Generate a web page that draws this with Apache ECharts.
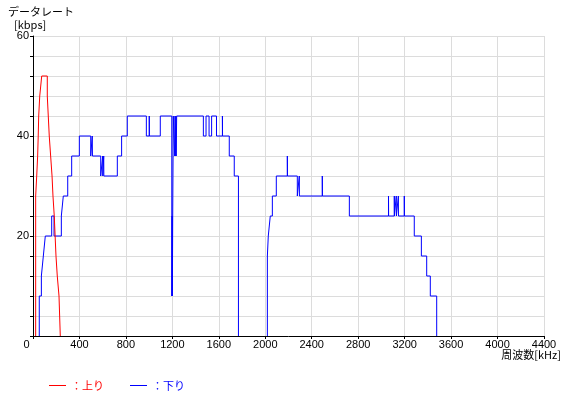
<!DOCTYPE html>
<html><head><meta charset="utf-8">
<script src="https://cdn.jsdelivr.net/npm/echarts/dist/echarts.min.js"></script>
<style>html,body{margin:0;padding:0;background:#fff}#c{width:576px;height:400px}</style>
</head><body><div id="c"></div>
<script>
// ---- data (kHz, kbps) : each point holds its rate until the next frequency ----
const upFreq = [23, 23, 32, 40, 45, 49, 58, 75, 123, 140, 152, 164, 172, 183, 198, 209, 224, 235];
const upRate = [0, 28, 32, 36, 40, 44, 48, 52, 48, 40, 36, 32, 28, 24, 16, 12, 8, 0];

const dlFreqA = [54, 54, 72, 89, 106, 161, 181, 244, 261, 299, 333, 399, 497, 510, 512, 583, 600, 601, 609, 610,
  726, 763, 812, 976, 1001, 1002, 1096, 1195, 1198, 1200, 1203, 1208, 1220, 1223, 1226, 1230, 1233, 1237,
  1467, 1490, 1516, 1538, 1580, 1631, 1632, 1690, 1733, 1769];
const dlRateA = [0, 8, 12, 16, 20, 24, 20, 24, 28, 32, 36, 40, 36, 40, 36, 32, 36, 32, 36, 32,
  36, 40, 44, 40, 44, 40, 44, 8, 24, 8, 24, 44, 36, 44, 36, 44, 36, 44,
  40, 44, 40, 44, 40, 44, 40, 36, 32, 0];

const dlFreqB = [2018, 2018, 2026, 2043, 2061, 2095, 2190, 2191, 2276, 2293, 2294, 2491, 2492, 2724,
  3061, 3062, 3111, 3112, 3128, 3129, 3146, 3147, 3197, 3198, 3283, 3344, 3390, 3421, 3476];
const dlRateB = [0, 16, 20, 24, 28, 32, 36, 32, 28, 32, 28, 32, 28, 24,
  28, 24, 28, 24, 28, 24, 28, 24, 28, 24, 20, 16, 12, 8, 0];

const xMax = 4400, xStep = 400;
const yMax = 60, yStep = 4, yLabelStep = 20;
const seriesNames = ['：上り', '：下り'];
const yTitle = ['データレート', '[kbps]'];
const xTitle = '周波数[kHz]';

const pts = (f, r) => f.map((v, i) => [v, r[i]]);
const RED = '#ff0000', BLUE = '#0000ff';
const NUM_FONT = 'Liberation Sans';
const JP_FONT = '"Noto Sans CJK JP"';

const chart = echarts.init(document.getElementById('c'));
chart.setOption({
  animation: false,
  grid: {left: 33, right: 32, top: 36, bottom: 64, outerBoundsMode: 'none'},
  xAxis: {
    type: 'value', min: 0, max: xMax, interval: xStep,
    axisLine: {lineStyle: {color: '#000', width: 1}},
    axisTick: {show: true, length: 3, lineStyle: {color: '#000'}},
    axisLabel: {
      color: '#000', fontSize: 11, fontFamily: NUM_FONT, margin: 3,
      showMinLabel: true, showMaxLabel: true,
      formatter: v => v === 0 ? '{o|0}' : String(v),
      rich: {o: {padding: [0, 13, 0, 0], color: '#000', fontSize: 11, fontFamily: NUM_FONT}}
    },
    splitLine: {show: true, lineStyle: {color: '#dcdcdc', width: 1}}
  },
  yAxis: {
    type: 'value', min: 0, max: yMax, interval: yStep,
    axisLine: {show: true, lineStyle: {color: '#000', width: 1}},
    axisTick: {show: true, length: 3, lineStyle: {color: '#000'}},
    axisLabel: {
      color: '#000', fontSize: 11, fontFamily: NUM_FONT, margin: 4,
      showMinLabel: true, showMaxLabel: true,
      formatter: v => (v % yLabelStep === 0 && v > 0) ? String(v) : ''
    },
    splitLine: {show: true, lineStyle: {color: '#dcdcdc', width: 1}}
  },
  legend: {
    left: 44, top: 375, icon: 'rect', itemWidth: 17, itemHeight: 1, itemGap: 26,
    textStyle: {fontSize: 11, fontFamily: JP_FONT},
    data: [
      {name: seriesNames[0], textStyle: {color: RED}},
      {name: seriesNames[1], textStyle: {color: BLUE}}
    ]
  },
  graphic: [
    {type: 'text', left: 8, top: 6, style: {text: yTitle[0], font: '11px ' + JP_FONT, fill: '#000'}},
    {type: 'text', left: 14, top: 19, style: {text: yTitle[1], font: '11px ' + JP_FONT, fill: '#000'}},
    {type: 'text', right: 15, top: 349, style: {text: xTitle, font: '11px ' + JP_FONT, fill: '#000'}}
  ],
  series: [
    {name: seriesNames[1], type: 'line', step: 'end', data: pts(dlFreqA, dlRateA), symbol: 'none',
      itemStyle: {color: BLUE}, lineStyle: {color: BLUE, width: 1}, z: 2},
    {name: seriesNames[1], type: 'line', step: 'end', data: pts(dlFreqB, dlRateB), symbol: 'none',
      itemStyle: {color: BLUE}, lineStyle: {color: BLUE, width: 1}, z: 2},
    {name: seriesNames[0], type: 'line', step: 'end', data: pts(upFreq, upRate), symbol: 'none',
      itemStyle: {color: RED}, lineStyle: {color: RED, width: 1}, z: 3}
  ]
});
</script></body></html>
